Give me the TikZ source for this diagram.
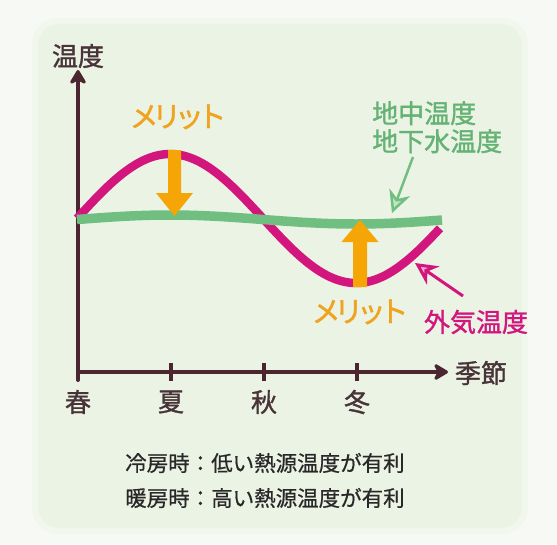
\documentclass[tikz,border=0pt]{standalone}
\usepackage{fontspec}
\setmainfont{Noto Sans CJK JP}
\newfontfamily\jpmed[FakeBold=1.3]{Noto Sans CJK JP}
\newfontfamily\jpkana[FakeBold=1.3,LetterSpace=-22]{Noto Sans CJK JP}
\newfontfamily\jpbody[FakeBold=0.6]{Noto Sans CJK JP}
\usetikzlibrary{arrows.meta}
\definecolor{outerbg}{RGB}{247,250,244}
\definecolor{innerbg}{RGB}{235,243,229}
\definecolor{axiscol}{RGB}{75,38,48}
\definecolor{labcol}{RGB}{72,52,56}
\definecolor{magcol}{RGB}{210,22,125}
\definecolor{grncol}{RGB}{112,190,128}
\definecolor{grntext}{RGB}{100,178,116}
\definecolor{orgcol}{RGB}{245,165,5}
\definecolor{orgtext}{RGB}{240,163,30}
\definecolor{pinkfill}{RGB}{242,172,212}
\definecolor{ltgreen}{RGB}{196,228,200}
\definecolor{bodytext}{RGB}{40,40,40}
\tikzset{
  axisline/.style={draw=axiscol, line width=4pt, line cap=round},
  axisarrow/.style={axisline, -{Stealth[length=17pt,width=20pt,inset=5pt,round]}},
  tickmark/.style={draw=axiscol, line width=4pt},
  bigtext/.style={font=\jpmed\fontsize{26}{30}\selectfont, inner sep=0pt},
  axislabel/.style={bigtext, text=labcol},
  merit/.style={font=\jpkana\fontsize{29}{32}\selectfont, inner sep=0pt, text=orgtext},
  meritarrow/.style={fill=orgcol},
  bodyline/.style={font=\jpbody\fontsize{21.5}{25}\selectfont, text=bodytext, inner sep=0pt}
}
\begin{document}
\begin{tikzpicture}[x=1pt,y=-1pt]
\useasboundingbox (0,0) rectangle (557,544);
\fill[outerbg] (0,0) rectangle (557,544);
\fill[innerbg!50!outerbg, rounded corners=26pt] (32,18) rectangle (528,534);
\fill[innerbg, rounded corners=22pt] (38,24) rectangle (522,528);

% axes
\coordinate (origin) at (78,380);
\coordinate (ytop) at (78,70);
\coordinate (xend) at (448,372);
\coordinate (xstart) at (78,372);
\draw[axisarrow] (origin) -- (ytop);
\draw[axisarrow] (xstart) -- (xend);
\foreach \n/\xx in {sum/171, aut/264, win/357}{
  \coordinate (t\n a) at (\xx,363);
  \coordinate (t\n b) at (\xx,381);
  \draw[tickmark] (t\n a) -- (t\n b);
}
\node[axislabel] (ylab) at (78,56) {温度};
\node[axislabel] (xlab) at (481,373) {季節};
\node[axislabel] (spring) at (78,402) {春};
\node[axislabel] (summer) at (171,402) {夏};
\node[axislabel] (autumn) at (264,402) {秋};
\node[axislabel] (winter) at (357,402) {冬};

% curves
\draw[magcol, line width=8.5pt]
  plot[domain=77:440, samples=120, smooth] (\x, {218.5 - 64.5*sin((\x-77)*0.967742)});
\draw[grncol, line width=9.5pt]
  plot[domain=77:442, samples=60, smooth] (\x, {219.5 - 4.5*sin((\x-77)*0.967742)});

% merit arrows
\fill[meritarrow] (168,150) -- (181,150) -- (181,193) -- (193,193) -- (174.5,216)
  -- (156,193) -- (168,193) -- cycle;
\fill[meritarrow] (353,287) -- (367,287) -- (367,242) -- (378.5,242) -- (360,220)
  -- (341.5,242) -- (353,242) -- cycle;
\node[merit] (merit1) at (178,117) {メリット};
\node[merit] (merit2) at (360,312) {メリット};

% ground temperature label
\node[bigtext, text=grntext, align=left, anchor=north west] (glab)
  at (372,101) {地中温度\\[-2pt]地下水温度};
\coordinate (gtail) at (413,157);
\coordinate (gtip) at (392,213);
\draw[grncol, line width=2.5pt, -{Stealth[length=22pt,width=22pt,inset=7pt,fill=ltgreen]}]
  (gtail) -- (gtip);

% outside temperature label
\node[bigtext, text=magcol] (mlab) at (476,322) {外気温度};
\coordinate (mtail) at (463,296);
\coordinate (mtip) at (415,263);
\draw[magcol, line width=3pt, -{Stealth[length=22pt,width=22pt,inset=7pt,fill=pinkfill]}]
  (mtail) -- (mtip);

% bottom text
\node[bodyline, anchor=west] (line1) at (125,463) {冷房時：低い熱源温度が有利};
\node[bodyline, anchor=west] (line2) at (125,498) {暖房時：高い熱源温度が有利};
\end{tikzpicture}
\end{document}
